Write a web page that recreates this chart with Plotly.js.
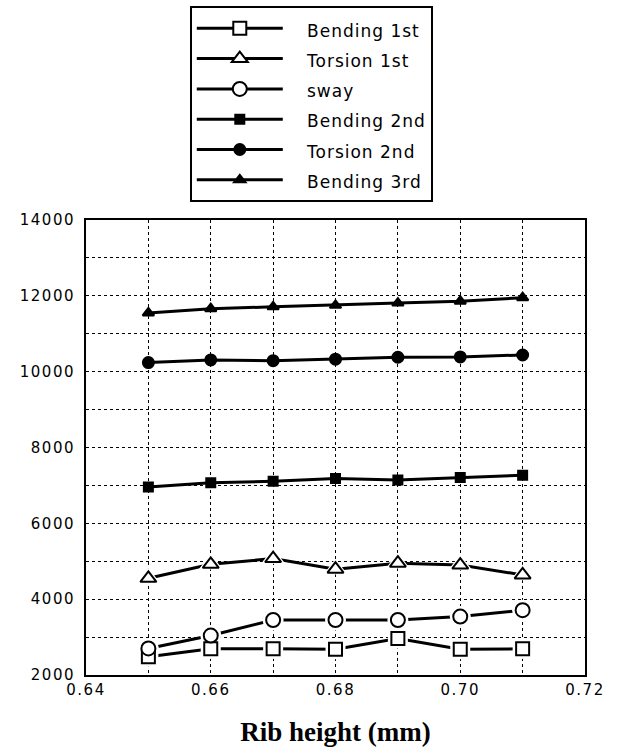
<!DOCTYPE html>
<html>
<head>
<meta charset="utf-8">
<script src="https://cdn.plot.ly/plotly-3.0.1.min.js"></script>
<style>
html,body{margin:0;padding:0;background:#fff;}
#chart{width:623px;height:751px;}
#chart .ytick text, #chart .xtick text{letter-spacing:1.5px;}
.legendtext{font-size:17px !important; letter-spacing:1px;}
</style>
</head>
<body>
<div id="chart"></div>
<script>
const ribHeight = [0.65, 0.66, 0.67, 0.68, 0.69, 0.70, 0.71];
const bending1st = [2480, 2690, 2690, 2680, 2960, 2680, 2690];
const torsion1st = [4550, 4920, 5070, 4790, 4950, 4900, 4640];
const sway = [2700, 3040, 3450, 3450, 3450, 3540, 3710];
const bending2nd = [6960, 7070, 7110, 7180, 7140, 7210, 7270];
const torsion2nd = [10240, 10310, 10290, 10330, 10380, 10390, 10440];
const bending3rd = [11550, 11660, 11710, 11750, 11810, 11860, 11950];

const seriesNames = ["Bending 1st", "Torsion 1st", "sway", "Bending 2nd", "Torsion 2nd", "Bending 3rd"];
const seriesData = [bending1st, torsion1st, sway, bending2nd, torsion2nd, bending3rd];
const symbols = ["square", "triangle-up", "circle", "square", "circle", "triangle-up"];
const sizes = [13, 14, 14, 9, 11, 10];
const fills = ['#fff', '#fff', '#fff', '#000', '#000', '#000'];

const legendTraces = seriesNames.map((n, i) => ({
  x: ribHeight, y: seriesData[i], name: '\u00a0\u00a0\u00a0' + n, type: 'scatter', mode: 'lines+markers',
  line: {color: '#000', width: 3},
  marker: {symbol: symbols[i], size: sizes[i], color: fills[i], line: {color: '#000', width: 2}},
  cliponaxis: false
}));
const halos = [0, 1, 2].map(i => ({
  x: ribHeight, y: seriesData[i], type: 'scatter', mode: 'markers', showlegend: false,
  marker: {symbol: symbols[i], size: sizes[i] + 7, color: '#fff', line: {width: 0}},
  cliponaxis: false
}));
const markersTop = [0, 1, 2].map(i => ({
  x: ribHeight, y: seriesData[i], type: 'scatter', mode: 'markers', showlegend: false,
  marker: {symbol: symbols[i], size: sizes[i], color: fills[i], line: {color: '#000', width: 2}},
  cliponaxis: false
}));

const layout = {
  width: 623, height: 751,
  margin: {l: 86, r: 38, t: 220, b: 76, autoexpand: false},
  paper_bgcolor: '#fff', plot_bgcolor: '#fff',
  font: {family: 'DejaVu Sans, sans-serif', color: '#000'},
  xaxis: {
    range: [0.64, 0.72], dtick: 0.02, tick0: 0.64, tickformat: '.2f',
    showgrid: true, gridcolor: '#000', gridwidth: 1, griddash: 'dot', zeroline: false,
    minor: {dtick: 0.01, showgrid: true, gridcolor: '#000', gridwidth: 1, griddash: 'dot'},
    showline: true, linecolor: '#000', linewidth: 2, mirror: true,
    ticks: '', tickfont: {size: 15, family: 'DejaVu Sans, sans-serif'},
    title: {text: '\u00a0Rib height (mm)', font: {family: 'Liberation Serif, Times New Roman, serif', size: 27, weight: 'bold'}, standoff: 24}
  },
  yaxis: {
    range: [2000, 14000], dtick: 2000, tick0: 2000, tickformat: 'd',
    showgrid: true, gridcolor: '#000', gridwidth: 1, griddash: 'dot', zeroline: false,
    minor: {dtick: 1000, showgrid: true, gridcolor: '#000', gridwidth: 1, griddash: 'dot'},
    showline: true, linecolor: '#000', linewidth: 2, mirror: true,
    ticks: '', tickfont: {size: 15, family: 'DejaVu Sans, sans-serif'}, ticklabelstandoff: 6
  },
  showlegend: true,
  legend: {
    x: 0.208, y: 1.47, xanchor: 'left', yanchor: 'top',
    bgcolor: '#fff', bordercolor: '#000', borderwidth: 2,
    font: {size: 21, family: 'DejaVu Sans, sans-serif'},
    itemwidth: 86, traceorder: 'normal',
    itemclick: false
  }
};
Plotly.newPlot('chart', legendTraces.concat(halos, markersTop), layout, {displayModeBar: false, staticPlot: true});
</script>
</body>
</html>
